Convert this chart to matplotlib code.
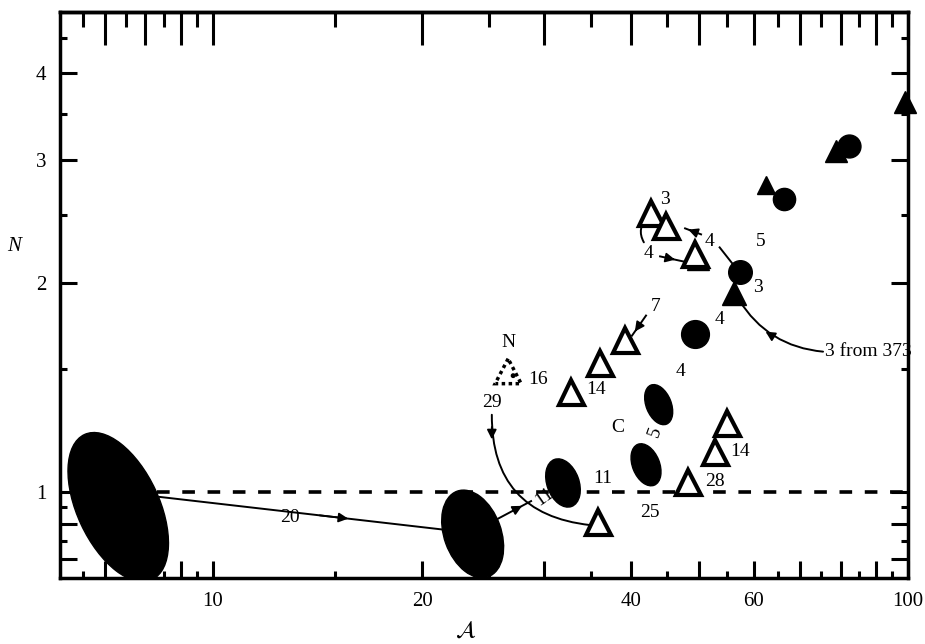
"""
Log-log plot of N against script-A: ellipses, circles and triangles with arrows.
"""

import matplotlib
matplotlib.use("Agg")
import matplotlib.pyplot as plt
from matplotlib.patches import Ellipse, Polygon
from matplotlib.transforms import ScaledTranslation
from matplotlib.ticker import FixedLocator, FixedFormatter, NullFormatter

plt.rcParams["font.family"] = ["Liberation Serif", "DejaVu Serif"]
plt.rcParams["mathtext.fontset"] = "stix"

# ---- data (A, N) ----
ellipse_A = [7.31, 23.65, 31.9, 42.0, 43.8]
ellipse_N = [0.951, 0.870, 1.030, 1.094, 1.335]

circle_A = [49.4, 57.3, 66.4, 82.3]
circle_N = [1.689, 2.068, 2.634, 3.14]

filled_tri_A = [49.9, 56.3, 62.6, 78.8, 99.0]
filled_tri_N = [2.16, 1.935, 2.76, 3.09, 3.635]

open_tri_A = [42.7, 44.9, 49.4, 39.2, 36.1, 32.8, 35.8, 48.3, 52.7, 55.0]
open_tri_N = [2.52, 2.41, 2.20, 1.656, 1.53, 1.394, 0.905, 1.034, 1.142, 1.257]

nitrogen_A = [26.6]
nitrogen_N = [1.489]

x_major = [7, 8, 9, 10, 20, 30, 40, 50, 60, 70, 80, 90, 100]
x_labels = ["", "", "", "10", "20", "", "40", "", "60", "", "", "", "100"]
x_minor = [6.5, 7.5, 8.5, 9.5, 15, 25, 35, 45, 55, 65, 75, 85, 95]
y_major = [0.8, 0.9, 1, 2, 3, 4]
y_labels = ["", "", "1", "2", "3", "4"]
y_minor = [0.85, 0.95, 1.5, 2.5, 3.5, 4.5]

# annotations: (text, A, N)
labels = [
    ("3", 44.7, 2.634), ("4", 51.9, 2.293), ("5", 61.4, 2.293),
    ("4", 42.3, 2.203), ("3", 60.8, 1.967), ("4", 53.6, 1.769),
    ("7", 43.3, 1.847), ("4", 47.1, 1.489), ("N", 26.6, 1.639),
    ("16", 29.4, 1.45), ("14", 35.6, 1.403), ("29", 25.2, 1.344),
    ("C", 38.3, 1.237), ("11", 36.4, 1.047), ("25", 42.6, 0.933),
    ("20", 12.9, 0.920), ("28", 52.7, 1.034), ("14", 57.4, 1.142),
]
# straight arrows: start, end, arrowhead position (fraction)
arrows = [
    ((8.39, 0.9835), (21.6, 0.882), 0.66),
    ((25.5, 0.911), (28.7, 0.970), 0.75),
    ((50.4, 2.346), (47.8, 2.393), 0.8),
    ((44.0, 2.181), (47.5, 2.145), 0.65),
    ((42.0, 1.793), (40.1, 1.678), 0.8),
]
plain_line = [(53.6, 2.247), (56.2, 2.116)]
# curves: start, end, rad
curves = [
    ((25.2, 1.291), (34.9, 0.896), 0.45),
    ((57.1, 1.891), (75.5, 1.591), 0.25),
    ((42.3, 2.482), (41.7, 2.285), 0.4),
]
curve_heads = [
    ((25.2, 1.24), (25.2, 1.19)),
    ((64.1, 1.672), (62.4, 1.70)),
]

fig = plt.figure(figsize=(9.25, 6.44), dpi=100)
ax = fig.add_axes([0.065, 0.1025, 0.9165, 0.879])
ax.set_xscale("log")
ax.set_yscale("log")
ax.set_xlim(6.03, 100)
ax.set_ylim(0.752, 4.9)


def at(a, n):
    # inch units around a data point
    return fig.dpi_scale_trans + ScaledTranslation(a, n, ax.transData)


def log_lerp(p0, p1, t):
    return (p0[0] ** (1 - t) * p1[0] ** t, p0[1] ** (1 - t) * p1[1] ** t)


head = dict(arrowstyle="-|>", color="k", lw=1.3, mutation_scale=14,
            shrinkA=0, shrinkB=0)

# dashed N = 1 line
ax.plot([8.3, 100], [1, 1], color="k", lw=2.6, ls=(0, (3.5, 3.5)), zorder=1)

# ellipses (sizes in inches, angle in degrees)
ell_w = [0.82, 0.57, 0.32, 0.27, 0.25]
ell_h = [1.60, 0.91, 0.50, 0.44, 0.42]
ell_ang = [25, 20, 20, 22, 22]
for a, n, w, h, ang in zip(ellipse_A, ellipse_N, ell_w, ell_h, ell_ang):
    ax.add_patch(Ellipse((0, 0), w, h, angle=ang, color="k", transform=at(a, n), zorder=3))

circle_ms = [20, 17, 16, 16.5]
for a, n, ms in zip(circle_A, circle_N, circle_ms):
    ax.plot(a, n, "o", color="k", ms=ms, zorder=4)

ftri_ms = [16, 17, 13, 16, 16]
for a, n, ms in zip(filled_tri_A, filled_tri_N, ftri_ms):
    ax.plot(a, n, "^", color="k", ms=ms, zorder=3, clip_on=False)

ax.plot(open_tri_A, open_tri_N, "^", ls="none", mfc="white", mec="k",
        ms=18, mew=3, zorder=5)

# dotted triangle for N
for a, n in zip(nitrogen_A, nitrogen_N):
    ax.add_patch(Polygon([(0, 0.13), (-0.13, -0.12), (0.13, -0.12)], closed=True,
                         fill=False, ec="k", lw=2.5, ls=(0, (1, 1)), transform=at(a, n), zorder=5))
    ax.add_patch(Ellipse((0.05, -0.04), 0.035, 0.035, color="k", transform=at(a, n), zorder=5))

# arrows
for p0, p1, t in arrows:
    ax.plot([p0[0], p1[0]], [p0[1], p1[1]], color="k", lw=1.4, zorder=2)
    ax.annotate("", xy=log_lerp(p0, p1, t), xytext=log_lerp(p0, p1, t - 0.1), arrowprops=head)
ax.plot([p[0] for p in plain_line], [p[1] for p in plain_line], color="k", lw=1.4)
for p0, p1, rad in curves:
    ax.annotate("", xy=p1, xytext=p0,
                arrowprops=dict(arrowstyle="-", color="k", lw=1.4, shrinkA=0, shrinkB=0,
                                connectionstyle=f"arc3,rad={rad}"))
for tail, tip in curve_heads:
    ax.annotate("", xy=tip, xytext=tail, arrowprops=head)

for txt, a, n in labels:
    ax.text(a, n, txt, fontsize=14, ha="center", va="center", zorder=6)
ax.text(43.3, 1.22, "5", fontsize=14, ha="center", va="center", rotation=70)
ax.text(30.0, 0.985, "11", fontsize=14, ha="center", va="center", rotation=35, zorder=6)
ax.text(76.0, 1.591, "3 from 373", fontsize=14, ha="left", va="center")

# axes styling
ax.xaxis.set_major_locator(FixedLocator(x_major))
ax.xaxis.set_major_formatter(FixedFormatter(x_labels))
ax.xaxis.set_minor_locator(FixedLocator(x_minor))
ax.xaxis.set_minor_formatter(NullFormatter())
ax.yaxis.set_major_locator(FixedLocator(y_major))
ax.yaxis.set_major_formatter(FixedFormatter(y_labels))
ax.yaxis.set_minor_locator(FixedLocator(y_minor))
ax.yaxis.set_minor_formatter(NullFormatter())
ax.tick_params(which="both", direction="in", top=False, right=True, width=2.2, labelsize=15)
ax.tick_params(which="major", length=12, pad=10)
ax.tick_params(which="minor", length=5)
for s in ax.spines.values():
    s.set_linewidth(2.5)

# top ticks are longer in the original
top = ax.secondary_xaxis("top")
top.xaxis.set_major_locator(FixedLocator(x_major))
top.xaxis.set_minor_locator(FixedLocator(x_minor))
top.xaxis.set_major_formatter(NullFormatter())
top.xaxis.set_minor_formatter(NullFormatter())
top.tick_params(which="both", direction="in", width=2.2)
top.tick_params(which="major", length=24)
top.tick_params(which="minor", length=11)
top.spines["top"].set_linewidth(2.5)

ax.set_ylabel("N", fontsize=15, style="italic", rotation=0, va="center")
ax.yaxis.set_label_coords(-0.054, 0.585)
ax.set_xlabel(r"$\mathcal{A}$", fontsize=17)
ax.xaxis.set_label_coords(0.478, -0.075)

plt.savefig("out.png", dpi=100)
plt.close()
